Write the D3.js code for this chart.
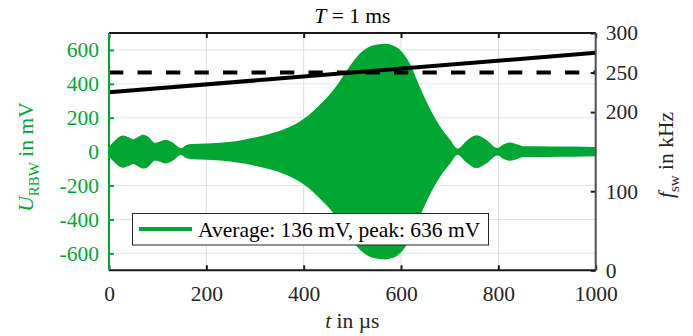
<!DOCTYPE html>
<html>
<head>
<meta charset="utf-8">
<script src="https://cdn.jsdelivr.net/npm/d3@7"></script>
<style>
  html, body { margin: 0; padding: 0; background: #fff; }
  svg { display: block; }
</style>
</head>
<body>
<svg id="chart" width="693" height="336"></svg>
<script>
// Time axis (µs) and RBW-filtered voltage envelope (mV)
const envT   = [0, 10, 20, 29, 40, 50, 60, 70, 80, 95, 105, 115, 130, 148, 158, 170, 200, 240, 280, 320, 362, 392, 410, 430, 461, 475, 495, 516, 536, 552, 567, 582, 598, 618, 639, 660, 680, 701, 716, 735, 755, 775, 798, 812, 824, 840, 851, 886, 920, 954, 1000];
const envAmp = [30, 60, 85, 95, 85, 73, 88, 100, 90, 52, 60, 70, 55, 20, 38, 45, 48, 55, 72, 97, 135, 178, 215, 268, 363, 420, 505, 580, 620, 632, 636, 628, 600, 520, 380, 250, 150, 70, 18, 65, 97, 70, 22, 45, 54, 42, 32, 32, 30, 30, 27];

// Switching frequency sweep (kHz) and constant reference
const fswT = [0, 1000];
const fswVal = [225, 275];
const refT = [0, 1000];
const refVal = [250, 250];

// Tick values
const tTicks = [0, 200, 400, 600, 800, 1000];
const uTicks = [-600, -400, -200, 0, 200, 400, 600];
const fTicks = [0, 100, 200, 250, 300];

const legendText = "Average: 136 mV, peak: 636 mV";

const green = "rgb(0,168,51)";
const fs = 21.5;
const serif = "'Liberation Serif', 'Times New Roman', serif";
const plain = d => String(d);

const svg = d3.select("#chart");
const L = 109, R = 595.7, T = 33, B = 270.3;

const x = d3.scaleLinear().domain([0, 1000]).range([L, R]);
const yU = d3.scaleLinear().domain([-700, 700]).range([B, T]);
const yF = d3.scaleLinear().domain([0, 300]).range([B, T]);

// grid lines
svg.append("g").selectAll("line").data(uTicks).join("line")
  .attr("x1", L).attr("x2", R)
  .attr("y1", d => yU(d)).attr("y2", d => yU(d))
  .attr("stroke", "#d6eedc").attr("stroke-width", 1);
svg.append("g").selectAll("line").data(tTicks.slice(1, -1)).join("line")
  .attr("x1", d => x(d)).attr("x2", d => x(d))
  .attr("y1", T).attr("y2", B)
  .attr("stroke", "#dcdcdc").attr("stroke-width", 1);

// voltage envelope as filled band
const env = envT.map((t, i) => ({ t, a: envAmp[i] }));
svg.append("path")
  .datum(env)
  .attr("fill", green)
  .attr("d", d3.area()
    .x(d => x(d.t))
    .y0(d => yU(-d.a))
    .y1(d => yU(d.a))
    .curve(d3.curveMonotoneX));

// reference and sweep lines
const refData = refT.map((t, i) => ({ t, f: refVal[i] }));
const fswData = fswT.map((t, i) => ({ t, f: fswVal[i] }));
const fLine = d3.line().x(d => x(d.t)).y(d => yF(d.f));
svg.append("path").datum(refData)
  .attr("d", fLine).attr("fill", "none")
  .attr("stroke", "#000").attr("stroke-width", 4)
  .attr("stroke-dasharray", "14.3,14.2");
svg.append("path").datum(fswData)
  .attr("d", fLine).attr("fill", "none")
  .attr("stroke", "#000").attr("stroke-width", 4);

// axes
const tick = 5;
const axB = svg.append("g").attr("transform", `translate(0,${B})`)
  .call(d3.axisBottom(x).tickValues(tTicks).tickSize(-tick).tickFormat(plain));
const axT = svg.append("g").attr("transform", `translate(0,${T})`)
  .call(d3.axisTop(x).tickValues(tTicks).tickSize(-tick).tickFormat(""));
const axL = svg.append("g").attr("transform", `translate(${L},0)`)
  .call(d3.axisLeft(yU).tickValues(uTicks).tickSize(-tick).tickPadding(10).tickFormat(plain));
const axR = svg.append("g").attr("transform", `translate(${R},0)`)
  .call(d3.axisRight(yF).tickValues(fTicks).tickSize(-tick).tickPadding(10).tickFormat(plain));

[axB, axT, axL, axR].forEach(a => {
  a.select(".domain").remove();
  a.attr("font-family", null).attr("font-size", null);
  a.selectAll("text").style("font-family", serif).style("font-size", fs + "px");
  a.selectAll(".tick line").attr("stroke-width", 2);
});
axB.selectAll(".tick line").attr("stroke", "#1a1a1a");
axB.selectAll("text").attr("fill", "#262626").attr("dy", "0.71em").attr("y", 15);
axT.selectAll(".tick line").attr("stroke", "#1a1a1a");
axL.selectAll(".tick line").attr("stroke", green);
axL.selectAll("text").attr("fill", green);
axR.selectAll(".tick line").attr("stroke", "#1a1a1a");
axR.selectAll("text").attr("fill", "#262626");

// frame
svg.append("line").attr("x1", L).attr("x2", R).attr("y1", T).attr("y2", T).attr("stroke", "#1a1a1a").attr("stroke-width", 2);
svg.append("line").attr("x1", L).attr("x2", R).attr("y1", B).attr("y2", B).attr("stroke", "#1a1a1a").attr("stroke-width", 2);
svg.append("line").attr("x1", L).attr("x2", L).attr("y1", T).attr("y2", B).attr("stroke", green).attr("stroke-width", 2);
svg.append("line").attr("x1", R).attr("x2", R).attr("y1", T).attr("y2", B).attr("stroke", "#4d4d4d").attr("stroke-width", 2);

function label(sel) {
  return sel.style("font-family", serif).style("font-size", fs + "px");
}

// title
const title = label(svg.append("text")).attr("x", (L + R) / 2).attr("y", 23)
  .attr("text-anchor", "middle").attr("fill", "#000");
title.append("tspan").attr("font-style", "italic").text("T");
title.append("tspan").text(" = 1 ms");

// x label
const xl = label(svg.append("text")).attr("x", (L + R) / 2).attr("y", 328)
  .attr("text-anchor", "middle").attr("fill", "#262626");
xl.append("tspan").attr("font-style", "italic").text("t");
xl.append("tspan").text(" in µs");

// left y label
const yl = label(svg.append("text")).attr("transform", "translate(33,157) rotate(-90)")
  .attr("text-anchor", "middle").attr("fill", green);
yl.append("tspan").attr("font-style", "italic").text("U");
yl.append("tspan").style("font-size", "15px").attr("dy", 6).text("RBW");
yl.append("tspan").attr("dy", -6).text(" in mV");

// right y label
const yr = label(svg.append("text")).attr("transform", "translate(673,155) rotate(-90)")
  .attr("text-anchor", "middle").attr("fill", "#262626");
yr.append("tspan").attr("font-style", "italic").text("f");
yr.append("tspan").style("font-size", "15px").attr("dy", 6).text("sw");
yr.append("tspan").attr("dy", -6).text(" in kHz");

// legend
const lg = svg.append("g");
lg.append("rect").attr("x", 132.5).attr("y", 213.5).attr("width", 356).attr("height", 31.5)
  .attr("fill", "#fff").attr("stroke", "#262626").attr("stroke-width", 1);
lg.append("line").attr("x1", 139).attr("x2", 192).attr("y1", 229).attr("y2", 229)
  .attr("stroke", green).attr("stroke-width", 4);
label(lg.append("text")).attr("x", 198).attr("y", 236.5).attr("fill", "#000").text(legendText);
</script>
</body>
</html>
